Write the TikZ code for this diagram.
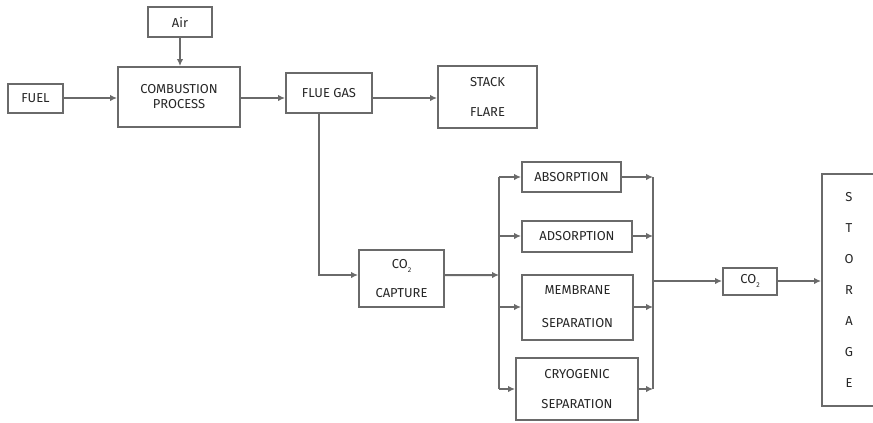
\documentclass[tikz,border=0pt]{standalone}
\usepackage{fontspec}
\setmainfont{Fira Sans}
\usetikzlibrary{arrows.meta,calc}
\definecolor{ln}{HTML}{6A6A6A}
\definecolor{tx}{HTML}{262626}
\begin{document}
\begin{tikzpicture}[x=1bp,y=-1bp,
  box/.style={draw=ln,line width=2bp,fill=white,inner sep=0pt,align=center,
    text=tx,font=\fontsize{13}{15}\selectfont},
  conn/.style={draw=ln,line width=2bp},
  arr/.style={conn,-{Latex[length=7bp,width=6.5bp]}}]
\useasboundingbox (0,0) rectangle (873,422);
\node[box,minimum width=64bp,minimum height=30bp] (air) at (180,22) {Air};
\node[box,minimum width=55bp,minimum height=29bp] (fuel) at (35.5,98) {FUEL};
\node[box,minimum width=122bp,minimum height=60bp] (comb) at (179,97) {COMBUSTION\\PROCESS};
\node[box,minimum width=86bp,minimum height=40bp] (flue) at (329,93) {FLUE GAS};
\node[box,minimum width=99bp,minimum height=62bp] (stack) at (487.5,97) {STACK\\[15pt]FLARE};
\node[box,minimum width=85bp,minimum height=57bp] (capt) at (401.5,278.5) {CO\raisebox{-4pt}{\scriptsize 2}\\[15pt]CAPTURE};
\node[box,minimum width=99bp,minimum height=30bp] (abso) at (571.5,177) {ABSORPTION};
\node[box,minimum width=110bp,minimum height=31bp] (adso) at (577,236) {ADSORPTION};
\node[box,minimum width=111bp,minimum height=65bp] (memb) at (577.5,307) {MEMBRANE\\[18pt]SEPARATION};
\node[box,minimum width=122bp,minimum height=62bp] (cryo) at (577,389) {CRYOGENIC\\[16pt]SEPARATION};
\node[box,minimum width=54bp,minimum height=27bp] (co2) at (750,281) {CO\raisebox{-4pt}{\scriptsize 2}};
\node[box,minimum width=54bp,minimum height=232bp] (stor) at (849,290)
  {S\\[16pt]T\\[16pt]O\\[16pt]R\\[16pt]A\\[16pt]G\\[16pt]E};
\coordinate (bl) at (499,275);
\coordinate (bltop) at (499,177);
\coordinate (blbot) at (499,389);
\coordinate (br) at (653,281);
\coordinate (brtop) at (653,177);
\coordinate (brbot) at (653,389);
\draw[arr] (fuel.east) -- (fuel.east -| comb.west);
\draw[arr] (air.south) -- (air.south |- comb.north);
\draw[arr] ([yshift=-1bp]comb.east) -- ([yshift=-1bp]comb.east -| flue.west);
\draw[arr] ([yshift=-1bp]stack.west -| flue.east) -- ([yshift=-1bp]stack.west);
\draw[arr] ([xshift=-10bp]flue.south) |- ([yshift=3.5bp]capt.west);
\draw[arr] ([yshift=3.5bp]capt.east) -- (bl);
\draw[conn] (bltop) -- (blbot);
\draw[conn] (brtop) -- (brbot);
\draw[arr] (bltop) -- (abso.west);
\draw[arr] (bltop |- adso.west) -- (adso.west);
\draw[arr] (bltop |- memb.west) -- (memb.west);
\draw[arr] (blbot) -- (cryo.west);
\draw[arr] (abso.east) -- (brtop);
\draw[arr] (adso.east) -- (adso.east -| brtop);
\draw[arr] (memb.east) -- (memb.east -| brtop);
\draw[arr] (cryo.east) -- (brbot);
\draw[arr] (br) -- (co2.west);
\draw[arr] (co2.east) -- (co2.east -| stor.west);
\end{tikzpicture}
\end{document}
